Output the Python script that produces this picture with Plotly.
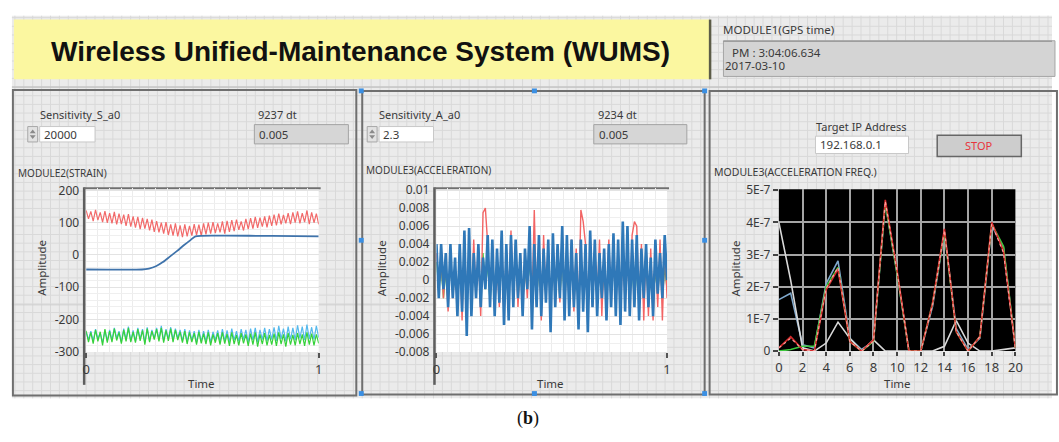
import numpy as np
import plotly.graph_objects as go

# ---------------- DATA ----------------
strain_red = [138,112,135,105,140,108,132,102,136,100,
              130,98,134,95,128,96,125,90,127,88,
              120,85,118,80,115,82,112,76,110,72,
              105,70,100,66,102,62,95,60,98,58,
              92,55,95,58,90,60,96,62,94,60,
              98,64,100,66,102,68,98,70,104,66,
              106,72,108,74,110,78,104,76,112,80,
              114,82,118,84,116,88,120,86,122,90,
              125,92,128,95,124,98,130,96,132,100,
              135,98,130,102,138,96,132,100,128,95]
strain_green = [-235,-270,-240,-275,-232,-268,-238,-280,-230,-272,
                -236,-270,-228,-265,-240,-275,-232,-268,-226,-270,
                -238,-272,-230,-266,-234,-278,-228,-270,-236,-262,
                -230,-268,-226,-272,-234,-266,-228,-270,-232,-264,
                -238,-272,-236,-276,-240,-270,-242,-278,-238,-274,
                -244,-276,-240,-280,-246,-272,-242,-278,-240,-275,
                -245,-282,-240,-276,-248,-280,-242,-274,-246,-282,
                -244,-278,-240,-284,-246,-276,-242,-280,-248,-278,
                -244,-282,-240,-276,-246,-284,-242,-278,-248,-280,
                -242,-276,-246,-282,-240,-278,-244,-280,-246,-274]
strain_cyan = [-240,-262,-236,-268,-230,-260,-242,-272,-234,-266,
               -232,-264,-226,-258,-236,-270,-228,-262,-222,-266,
               -234,-268,-226,-260,-230,-272,-224,-266,-232,-258,
               -226,-262,-220,-266,-230,-260,-224,-264,-228,-258,
               -232,-266,-230,-270,-234,-264,-236,-272,-232,-268,
               -236,-268,-232,-272,-238,-264,-234,-270,-230,-266,
               -234,-270,-228,-264,-236,-268,-230,-262,-232,-270,
               -228,-264,-226,-270,-232,-262,-226,-266,-230,-262,
               -224,-266,-220,-260,-228,-268,-222,-262,-226,-264,
               -218,-258,-222,-264,-216,-260,-224,-262,-220,-256]
strain_blue_t = [0, 0.24, 0.27, 0.30, 0.33, 0.36, 0.39, 0.42, 0.45, 0.47, 0.6, 0.8, 1.0]
strain_blue = [-45, -45, -42, -35, -22, -5, 12, 30, 47, 58, 60, 59, 58]

accel_blue = [0.004,-0.002,0.004,-0.001,0.003,-0.003,0.004,-0.002,0.0025,-0.004,
              0.004,-0.0035,0.0055,-0.0062,0.0058,-0.004,0.003,-0.002,0.004,-0.003,
              0.0025,-0.001,0.005,-0.003,0.0045,-0.004,0.0035,-0.0025,0.0055,-0.005,
              0.004,-0.0045,0.005,-0.003,0.0045,-0.002,0.003,-0.004,0.0035,-0.001,
              0.006,-0.0055,0.004,-0.003,0.005,-0.004,0.0035,-0.0025,0.0045,-0.0058,
              0.0052,-0.003,0.004,-0.002,0.006,-0.0045,0.005,-0.004,0.0045,-0.003,
              0.003,-0.0055,0.0045,-0.0035,0.004,-0.0058,0.0055,-0.003,0.0045,-0.004,
              0.003,-0.002,0.0035,-0.0045,0.004,-0.003,0.0052,-0.004,0.0045,-0.005,
              0.0065,-0.0035,0.006,-0.004,0.0045,-0.003,0.005,-0.0045,0.0035,-0.002,
              0.004,-0.003,0.0025,-0.004,0.0045,-0.0015,0.003,-0.002,0.005,0.0]
accel_red = [0.003,-0.001,0.0025,-0.002,0.002,-0.0035,0.003,-0.002,0.0015,-0.003,
             0.0035,-0.0045,0.005,-0.004,0.004,-0.003,0.0045,-0.002,0.0035,-0.004,
             0.0075,0.008,0.004,-0.002,0.003,-0.0035,0.002,-0.003,0.0045,-0.004,
             0.0035,-0.002,0.0055,-0.0025,0.004,-0.003,0.003,-0.0035,0.0025,-0.002,
             0.0045,-0.0035,0.0078,-0.003,0.004,-0.0045,0.005,-0.002,0.0035,-0.004,
             0.0045,-0.003,0.0035,-0.0025,0.0055,-0.004,0.004,-0.003,0.0045,-0.0035,
             0.0035,-0.004,0.0078,0.0065,0.004,-0.0045,0.005,-0.003,0.0035,-0.0025,
             0.0045,-0.004,0.003,-0.0035,0.0045,-0.003,0.004,-0.002,0.0035,-0.0045,
             0.0045,-0.003,0.0035,-0.004,0.005,0.0065,0.006,-0.0035,0.004,-0.0045,
             0.004,-0.004,0.0035,-0.0045,0.003,-0.003,0.0045,-0.0045,0.004,-0.002]
accel_green = [0.002,-0.001,0.0015,-0.002,0.001,-0.0025,0.002,-0.0015,0.001,-0.002,
               0.0025,-0.003,0.002,-0.002,0.0015,-0.001,0.002,-0.0015,0.0025,-0.002,
               0.003,-0.001,0.002,-0.0025,0.0015,-0.002,0.001,-0.0015,0.002,-0.003,
               0.0025,-0.0015,0.002,-0.001,0.0025,-0.002,0.0015,-0.0025,0.001,-0.001,
               0.002,-0.0015,0.003,-0.002,0.0015,-0.0025,0.002,-0.001,0.0025,-0.003,
               0.002,-0.0015,0.0015,-0.002,0.0025,-0.0025,0.002,-0.001,0.0015,-0.002,
               0.001,-0.0025,0.003,-0.002,0.0015,-0.003,0.002,-0.0015,0.0025,-0.001,
               0.002,-0.002,0.0015,-0.0025,0.002,-0.0015,0.0025,-0.001,0.002,-0.0025,
               0.0035,-0.002,0.003,-0.0015,0.002,-0.0025,0.0015,-0.002,0.0025,-0.001,
               0.002,-0.0025,0.0015,-0.002,0.001,-0.0015,0.002,-0.002,0.0015,-0.001]

freq_x = list(range(21))
freq_red   = [0.1,0.45,0.05,0.0,1.9,2.55,0.3,0.0,0.35,4.7,2.5,0.0,0.0,1.5,3.8,0.6,0.0,0.45,4.0,3.1,0.1]
freq_pink  = [0.1,0.4,0.05,0.0,1.95,2.6,0.3,0.0,0.3,4.65,2.45,0.0,0.0,1.45,3.75,0.6,0.0,0.45,3.95,3.05,0.1]
freq_green = [0.0,0.05,0.15,0.15,2.0,2.6,0.3,0.0,0.3,4.6,2.4,0.0,0.0,1.5,3.7,0.6,0.0,0.45,3.95,3.25,0.1]
freq_blue  = [1.6,1.8,0.2,0.1,2.1,2.8,0.4,0.05,0.3,4.6,2.4,0.0,0.0,1.4,3.7,0.7,0.05,0.4,3.9,3.2,0.1]
freq_white = [4.0,2.2,0.1,0.0,0.25,0.9,0.4,0.0,0.35,0.0,0.0,0.0,0.0,0.0,0.15,0.95,0.25,0.0,0.0,0.05,0.1]
FREQ_UNIT = 1e-7

strain_ticks = [200, 100, 0, -100, -200, -300]
strain_ticktext = ["200", "100", "0", "-100", "-200", "-300"]
accel_ticks = [0.01, 0.008, 0.006, 0.004, 0.002, 0, -0.002, -0.004, -0.006, -0.008]
accel_ticktext = ["0.01", "0.008", "0.006", "0.004", "0.002", "0", "-0.002", "-0.004", "-0.006", "-0.008"]
freq_yticks = [0, 1e-7, 2e-7, 3e-7, 4e-7, 5e-7]
freq_yticktext = ["0", "1E-7", "2E-7", "3E-7", "4E-7", "5E-7"]
freq_xticks = list(range(0, 21, 2))

# ---------------- LAYOUT HELPERS ----------------
W, H = 1059, 442
def X(p): return p / W
def Y(p): return 1 - p / H

shapes = []
ann = []
UI = "Noto Sans, Open Sans, sans-serif"

def rect(x0, y0, x1, y1, fill, line=None, lw=1, layer="below"):
    shapes.append(dict(type="rect", xref="paper", yref="paper",
                       x0=X(x0), x1=X(x1), y0=Y(y1), y1=Y(y0),
                       fillcolor=fill,
                       line=dict(color=line if line else "rgba(0,0,0,0)", width=lw if line else 0),
                       layer=layer))

def hline(x0, x1, y, color, w=1, layer="below"):
    shapes.append(dict(type="line", xref="paper", yref="paper", x0=X(x0), x1=X(x1), y0=Y(y), y1=Y(y),
                       line=dict(color=color, width=w), layer=layer))

def vline(x, y0, y1, color, w=1, layer="below"):
    shapes.append(dict(type="line", xref="paper", yref="paper", x0=X(x), x1=X(x), y0=Y(y0), y1=Y(y1),
                       line=dict(color=color, width=w), layer=layer))

def text(x, y, s, size=11, color="#3a3a3a", xanchor="left", family=UI, angle=0):
    ann.append(dict(xref="paper", yref="paper", x=X(x), y=Y(y), text=s, showarrow=False,
                    xanchor=xanchor, yanchor="middle", textangle=angle,
                    font=dict(family=family, size=size, color=color)))

# background panel with grid
rect(8, 8, 1059, 405, "#ebebeb")
p = []
gx = 11
while gx < 1059:
    p.append(f"M{X(gx):.5f},{Y(8):.5f}L{X(gx):.5f},{Y(405):.5f}")
    gx += 9
gy = 10
while gy < 405:
    p.append(f"M{X(8):.5f},{Y(gy):.5f}L{X(1059):.5f},{Y(gy):.5f}")
    gy += 9
shapes.append(dict(type="path", xref="paper", yref="paper", path="".join(p),
                   line=dict(color="#d9d9d9", width=1), layer="below"))
hline(8, 1059, 308, "#cfcfcf", 1)

# title box
rect(10, 12, 713, 74, "#fbf7a0")
vline(713.5, 12, 74, "#5c5c48", 2.5)
text(360, 45, "<b>Wireless Unified-Maintenance System (WUMS)</b>", size=28, color="#111",
     xanchor="center", family="Liberation Sans, Arial, sans-serif")

# GPS time
text(725, 22, "MODULE1(GPS time)", size=11.5)
rect(727, 34, 1062, 71, "#d4d4d4", "#a5a5a5", 1)
hline(727, 1059, 34.5, "#8f8f8f", 1.2)
text(734, 46, "PM : 3:04:06.634", size=11.5)
text(727, 60, "2017-03-10", size=11.5)

# panels
hline(8, 1059, 82, "#b8b8b8", 1)
rect(9, 85, 356, 402, "rgba(0,0,0,0)", "#6f6f6f", 2)
rect(362, 86, 708, 401, "rgba(0,0,0,0)", "#6f6f6f", 2)
rect(713, 86, 1064, 401, "rgba(0,0,0,0)", "#6f6f6f", 2)

def spinner(x0, y0):
    rect(x0, y0, x0 + 10, y0 + 16, "#e2e2e2", "#a8a8a8", 1)
    shapes.append(dict(type="path", xref="paper", yref="paper",
                       path=f"M{X(x0+5)},{Y(y0+3)}L{X(x0+2)},{Y(y0+7)}L{X(x0+8)},{Y(y0+7)}Z"
                            f"M{X(x0+2)},{Y(y0+9)}L{X(x0+8)},{Y(y0+9)}L{X(x0+5)},{Y(y0+13)}Z",
                       fillcolor="#8a8a8a", line=dict(width=0), layer="below"))

# panel 1 controls
text(34, 111, "Sensitivity_S_a0", size=11)
spinner(24, 123)
rect(36, 123, 92, 139, "#ffffff", "#c8c8c8", 1)
text(38, 131, "20000", size=11.5)
text(255, 111, "9237 dt", size=11)
rect(253, 121, 348, 141, "#d6d6d6", "#a3a3a3", 1)
text(256, 131, "0.005", size=11.5)
text(12, 171, "MODULE2(STRAIN)", size=10)

# panel 2 controls
text(377, 111, "Sensitivity_A_a0", size=11)
spinner(367, 123)
rect(379, 123, 434, 139, "#ffffff", "#c8c8c8", 1)
text(381, 131, "2.3", size=11.5)
text(598, 111, "9234 dt", size=11)
rect(596, 121, 690, 141, "#d6d6d6", "#a3a3a3", 1)
text(599, 131, "0.005", size=11.5)
text(364, 168, "MODULE3(ACCELERATION)", size=10)

# panel 3 controls
text(818, 123, "Target IP Address", size=11)
rect(820, 133, 914, 151, "#ffffff", "#c8c8c8", 1)
text(823, 142, "192.168.0.1", size=11.5)
rect(943, 132, 1028, 154, "#cdcdcd", "#666666", 1.5)
text(985, 143, "STOP", size=11, color="#e8343c", xanchor="center")
text(715, 170, "MODULE3(ACCELERATION FREQ.)", size=10.5)

# plot areas
C1 = (83, 318, 187, 357)
C2 = (437, 670, 187, 357)
C3 = (783, 1022, 188, 356)
rect(C1[0], C1[2], C1[1], C1[3], "#ffffff")
rect(C2[0], C2[2], C2[1], C2[3], "#ffffff")
rect(C3[0], C3[2], C3[1], C3[3], "#000000")
for c in (C1, C2):
    vline(c[0] - 2, c[2] - 1, 391, "#5e5e5e", 2.5)
    hline(c[0] - 2, c[1] + 2, c[2], "#707070", 2)

# axis titles
for cx, tx in ((38, 200), (381, 552), (739, 903)):
    text(cx, 270, "Amplitude", size=11.5, xanchor="center", angle=-90)
    text(tx, 390, "Time", size=11.5, xanchor="center")

# selection handles
for hx, hy in ((361, 86), (536, 86), (708, 86), (361, 241), (708, 241), (361, 400), (536, 400), (708, 400)):
    rect(hx - 2.5, hy - 2.5, hx + 2.5, hy + 2.5, "#3a8fe3", layer="above")

# caption
text(530, 426, "(<b>b</b>)", size=18, color="#111", xanchor="center",
     family="Liberation Serif, DejaVu Serif, serif")

# ---------------- FIGURE ----------------
fig = go.Figure()

t_s = np.linspace(0, 1, len(strain_red))
fig.add_trace(go.Scatter(x=t_s, y=strain_cyan, mode="lines", line=dict(color="#56b9ec", width=1.2), xaxis="x", yaxis="y"))
fig.add_trace(go.Scatter(x=t_s, y=strain_green, mode="lines", line=dict(color="#36d23a", width=1.2), xaxis="x", yaxis="y"))
fig.add_trace(go.Scatter(x=t_s, y=strain_red, mode="lines", line=dict(color="#f26a6a", width=1.2), xaxis="x", yaxis="y"))
fig.add_trace(go.Scatter(x=strain_blue_t, y=strain_blue, mode="lines", line=dict(color="#3f73ab", width=1.8, shape="spline", smoothing=0.6), xaxis="x", yaxis="y"))

t_a = np.linspace(0, 1, len(accel_blue))
fig.add_trace(go.Scatter(x=t_a, y=accel_green, mode="lines", line=dict(color="#3fd040", width=1.3), xaxis="x2", yaxis="y2"))
fig.add_trace(go.Scatter(x=t_a, y=accel_red, mode="lines", line=dict(color="#f26464", width=1.4), xaxis="x2", yaxis="y2"))
fig.add_trace(go.Scatter(x=t_a, y=accel_blue, mode="lines", line=dict(color="#2f78b8", width=2.6), xaxis="x2", yaxis="y2"))

def fy(vals): return [v * FREQ_UNIT for v in vals]
fig.add_trace(go.Scatter(x=freq_x, y=fy(freq_blue), mode="lines", line=dict(color="#7fa8cc", width=1.6), xaxis="x3", yaxis="y3"))
fig.add_trace(go.Scatter(x=freq_x, y=fy(freq_white), mode="lines", line=dict(color="#d9d9d9", width=1.6), xaxis="x3", yaxis="y3"))
fig.add_trace(go.Scatter(x=freq_x, y=fy(freq_green), mode="lines", line=dict(color="#3cc83c", width=1.6), xaxis="x3", yaxis="y3"))
fig.add_trace(go.Scatter(x=freq_x, y=fy(freq_red), mode="lines", line=dict(color="#d42a2a", width=1.6), xaxis="x3", yaxis="y3"))
fig.add_trace(go.Scatter(x=freq_x, y=fy(freq_pink), mode="lines", line=dict(color="#ff9c9c", width=1.2, dash="dot"), xaxis="x3", yaxis="y3"))

tickf = dict(family=UI, size=12, color="#3a3a3a")
tickf_x = dict(family=UI, size=13, color="#3a3a3a")
common = dict(zeroline=False, showline=False, fixedrange=True)

fig.update_layout(
    width=W, height=H, margin=dict(l=0, r=0, t=0, b=0),
    paper_bgcolor="#ffffff", plot_bgcolor="rgba(0,0,0,0)",
    showlegend=False, shapes=shapes, annotations=ann,
    xaxis=dict(domain=[X(C1[0]), X(C1[1])], range=[0, 1], anchor="y",
               tickmode="array", tickvals=[0, 1], ticktext=["0", "1"],
               ticks="outside", ticklen=5, tickcolor="#555", tickwidth=1.5, tickfont=tickf_x,
               showgrid=False, minor=dict(dtick=0.05, showgrid=True, gridcolor="#ececec", ticks=""), **common),
    yaxis=dict(domain=[Y(C1[3]), Y(C1[2])], range=[-301, 207], anchor="x",
               tickmode="array", tickvals=strain_ticks, ticktext=strain_ticktext,
               ticks="", ticklabelstandoff=6, tickfont=tickf,
               showgrid=True, gridcolor="#e3e3e3",
               minor=dict(dtick=20, showgrid=True, gridcolor="#efefef", ticks=""), **common),
    xaxis2=dict(domain=[X(C2[0]), X(C2[1])], range=[0, 1], anchor="y2",
                tickmode="array", tickvals=[0, 1], ticktext=["0", "1"],
                ticks="outside", ticklen=5, tickcolor="#555", tickwidth=1.5, tickfont=tickf_x,
                showgrid=False, minor=dict(dtick=0.05, showgrid=True, gridcolor="#ececec", ticks=""), **common),
    yaxis2=dict(domain=[Y(C2[3]), Y(C2[2])], range=[-0.008, 0.01021], anchor="x2",
                tickmode="array", tickvals=accel_ticks, ticktext=accel_ticktext,
                ticks="", ticklabelstandoff=6, tickfont=tickf,
                showgrid=True, gridcolor="#e3e3e3",
                minor=dict(dtick=0.001, showgrid=True, gridcolor="#efefef", ticks=""), **common),
    xaxis3=dict(domain=[X(C3[0]), X(C3[1])], range=[0, 20], anchor="y3",
                tickmode="array", tickvals=freq_xticks,
                ticks="outside", ticklen=4, tickcolor="#444", tickwidth=1.5, tickfont=tickf_x,
                showgrid=True, gridcolor="#a5a5a5", gridwidth=1.5, **common),
    yaxis3=dict(domain=[Y(C3[3]), Y(C3[2])], range=[0, 5.03e-7], anchor="x3",
                tickmode="array", tickvals=freq_yticks, ticktext=freq_yticktext,
                ticks="outside", ticklen=5, tickcolor="#444", tickwidth=1.5, tickfont=tickf,
                showgrid=True, gridcolor="#a5a5a5", gridwidth=1.5, **common),
)

fig.write_html("out.html")
